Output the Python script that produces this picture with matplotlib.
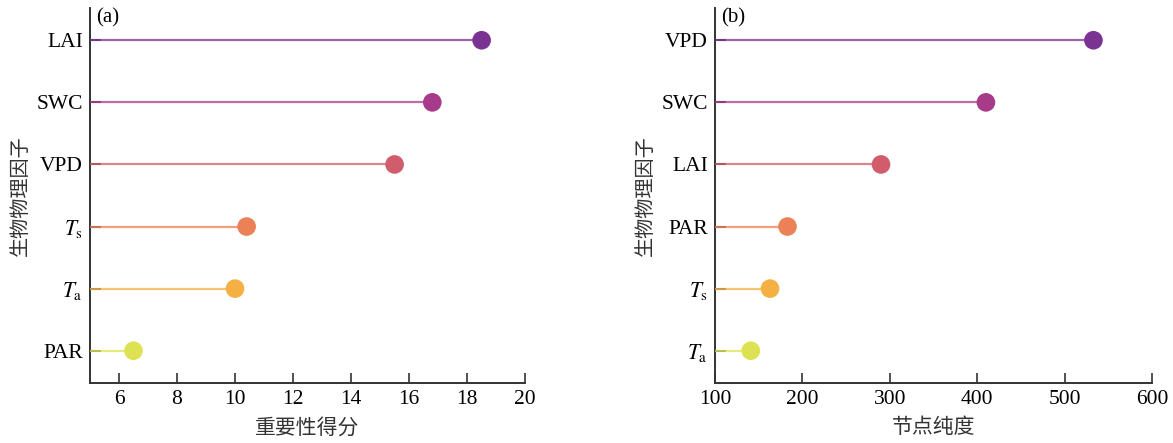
import matplotlib
matplotlib.use("Agg")
import matplotlib.pyplot as plt
import numpy as np

plt.rcParams['font.family'] = ['Liberation Serif', 'Noto Sans CJK SC']
plt.rcParams['mathtext.fontset'] = 'stix'

# 数据 (从下到上)
labels_a = ['PAR', '$T_\\mathrm{a}$', '$T_\\mathrm{s}$', 'VPD', 'SWC', 'LAI']
values_a = [6.5, 10.0, 10.4, 15.5, 16.8, 18.5]

labels_b = ['$T_\\mathrm{a}$', '$T_\\mathrm{s}$', 'PAR', 'LAI', 'SWC', 'VPD']
values_b = [141, 163, 183, 290, 410, 533]

# 颜色 (从下到上)
cores = ['#dde253', '#f4b042', '#ec8056', '#d15c6b', '#a83a8a', '#7a3393']

fig = plt.figure(figsize=(11.73, 4.43), dpi=100)
ax1 = fig.add_axes([0.0767, 0.1354, 0.371, 0.8466])
ax2 = fig.add_axes([0.6095, 0.1354, 0.3726, 0.8466])


def lollipop(ax, labels, values, xmin, xmax, xticks, xlabel, tag):
    y = np.arange(len(labels))
    for i in range(len(labels)):
        ax.plot([xmin, values[i]], [y[i], y[i]], color=cores[i], lw=1.6, alpha=0.75, zorder=3)
        ax.scatter(values[i], y[i], s=180, color=cores[i], zorder=4, edgecolors='none')
    ax.set_xlim(xmin, xmax)
    ax.set_ylim(-0.52, 5.52)
    ax.set_yticks(y)
    ax.set_yticklabels(labels)
    ax.set_xticks(xticks)
    for s in ['top', 'right']:
        ax.spines[s].set_visible(False)
    for s in ['left', 'bottom']:
        ax.spines[s].set_color('#333333')
        ax.spines[s].set_linewidth(1.4)
    ax.tick_params(axis='both', direction='in', length=7, width=1.2, color='#333333',
                   labelsize=15.5, pad=5)
    ax.tick_params(axis='y', length=8, pad=5)
    ax.set_xlabel(xlabel, fontsize=15, color='#333333', labelpad=7)
    ax.set_ylabel('生物物理因子', fontsize=14.5, color='#333333', labelpad=4)
    ax.text(0.015, 0.998, tag, transform=ax.transAxes, fontsize=15, va='top', ha='left')


lollipop(ax1, labels_a, values_a, 5, 20, [6, 8, 10, 12, 14, 16, 18, 20], '重要性得分', '(a)')
lollipop(ax2, labels_b, values_b, 100, 600, [100, 200, 300, 400, 500, 600], '节点纯度', '(b)')

fig.savefig('out.png', dpi=100)
